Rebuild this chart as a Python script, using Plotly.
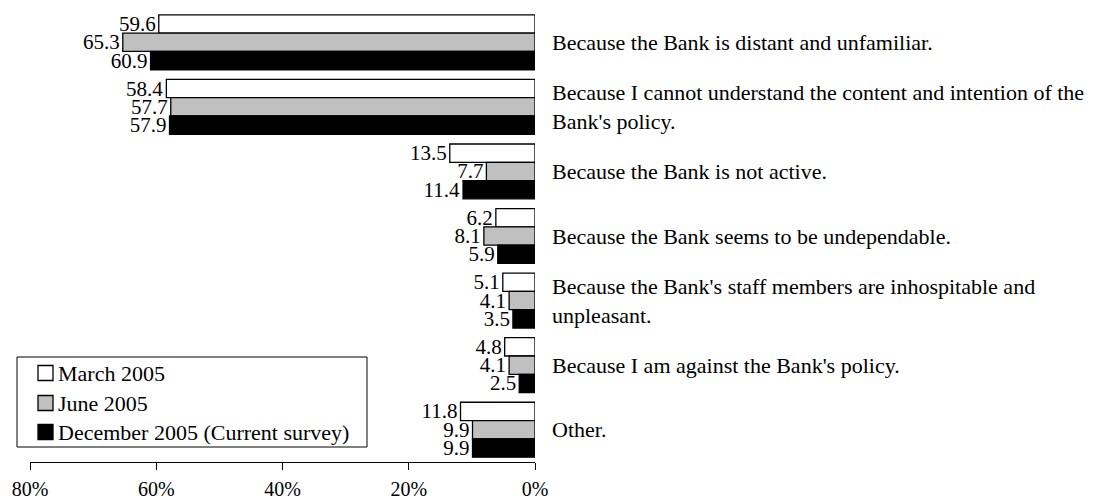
import plotly.graph_objects as go

# Reasons (one row per reason, top to bottom)
reasons = [
    "Because the Bank is distant and unfamiliar.",
    "Because I cannot understand the content and intention of the<br>Bank's policy.",
    "Because the Bank is not active.",
    "Because the Bank seems to be undependable.",
    "Because the Bank's staff members are inhospitable and<br>unpleasant.",
    "Because I am against the Bank's policy.",
    "Other.",
]

# Survey results, percent
march_2005 = [59.6, 58.4, 13.5, 6.2, 5.1, 4.8, 11.8]
june_2005 = [65.3, 57.7, 7.7, 8.1, 4.1, 4.1, 9.9]
december_2005 = [60.9, 57.9, 11.4, 5.9, 3.5, 2.5, 9.9]

series_names = ["March 2005", "June 2005", "December 2005 (Current survey)"]
series_values = [march_2005, june_2005, december_2005]
series_colors = ["#ffffff", "#c0c0c0", "#000000"]

tick_values = [80, 60, 40, 20, 0]
tick_labels = ["80%", "60%", "40%", "20%", "0%"]

FONT = "Liberation Serif, Times New Roman, serif"
W, H = 1096, 503
M_L, M_R, M_T, M_B = 30, 561, 10, 41
positions = list(range(len(reasons)))


def paper_x(px):
    return (px - M_L) / (W - M_L - M_R)


def paper_y(py):
    return (H - M_B - py) / (H - M_T - M_B)


fig = go.Figure()
for name, vals, color in zip(series_names, series_values, series_colors):
    fig.add_trace(go.Bar(
        name=name,
        x=vals,
        y=positions,
        orientation="h",
        marker=dict(color=color, line=dict(color="#000000", width=1.3)),
        text=[f"{v:.1f}" for v in vals],
        textposition="outside",
        constraintext="none",
        cliponaxis=False,
        textfont=dict(family=FONT, size=21, color="#000000"),
        hoverinfo="skip",
        showlegend=False,
    ))

# Reason labels to the right of the bars
for pos, label in zip(positions, reasons):
    fig.add_annotation(
        x=1, xref="paper", xshift=15, xanchor="left",
        y=pos, yref="y", yanchor="middle",
        text=label, align="left", showarrow=False,
        font=dict(family=FONT, size=22, color="#000000"),
    )

# Boxed legend in the lower-left corner
shapes = [dict(
    type="rect", xref="paper", yref="paper",
    x0=paper_x(17), x1=paper_x(367), y0=paper_y(447), y1=paper_y(357),
    line=dict(color="#000000", width=1), fillcolor="#ffffff", layer="above",
)]
row_centers = [373, 403, 432]
for name, color, cy in zip(series_names, series_colors, row_centers):
    shapes.append(dict(
        type="rect", xref="paper", yref="paper",
        x0=paper_x(38), x1=paper_x(53), y0=paper_y(cy + 7.5), y1=paper_y(cy - 7.5),
        line=dict(color="#000000", width=1.3), fillcolor=color, layer="above",
    ))
    fig.add_annotation(
        x=paper_x(56), xref="paper", xanchor="left",
        y=paper_y(cy), yref="paper", yanchor="middle",
        text=name, showarrow=False,
        font=dict(family=FONT, size=22, color="#000000"),
    )

fig.update_layout(
    width=W, height=H,
    margin=dict(l=M_L, r=M_R, t=M_T, b=M_B, autoexpand=False),
    paper_bgcolor="#ffffff",
    plot_bgcolor="#ffffff",
    barmode="group",
    bargap=0.15,
    bargroupgap=0,
    font=dict(family=FONT, size=22, color="#000000"),
    showlegend=False,
    shapes=shapes,
    xaxis=dict(
        range=[80, 0],
        tickvals=tick_values,
        ticktext=tick_labels,
        ticks="outside", ticklen=7, tickwidth=1.3, tickcolor="#000000",
        showline=True, linecolor="#000000", linewidth=1.3,
        showgrid=False, zeroline=False,
        automargin=False,
        ticklabelstandoff=2,
        tickfont=dict(family=FONT, size=20, color="#000000"),
    ),
    yaxis=dict(
        range=[6.5, -0.5],
        visible=False,
        showgrid=False, zeroline=False,
        automargin=False,
    ),
)

fig.write_html("out.html")
